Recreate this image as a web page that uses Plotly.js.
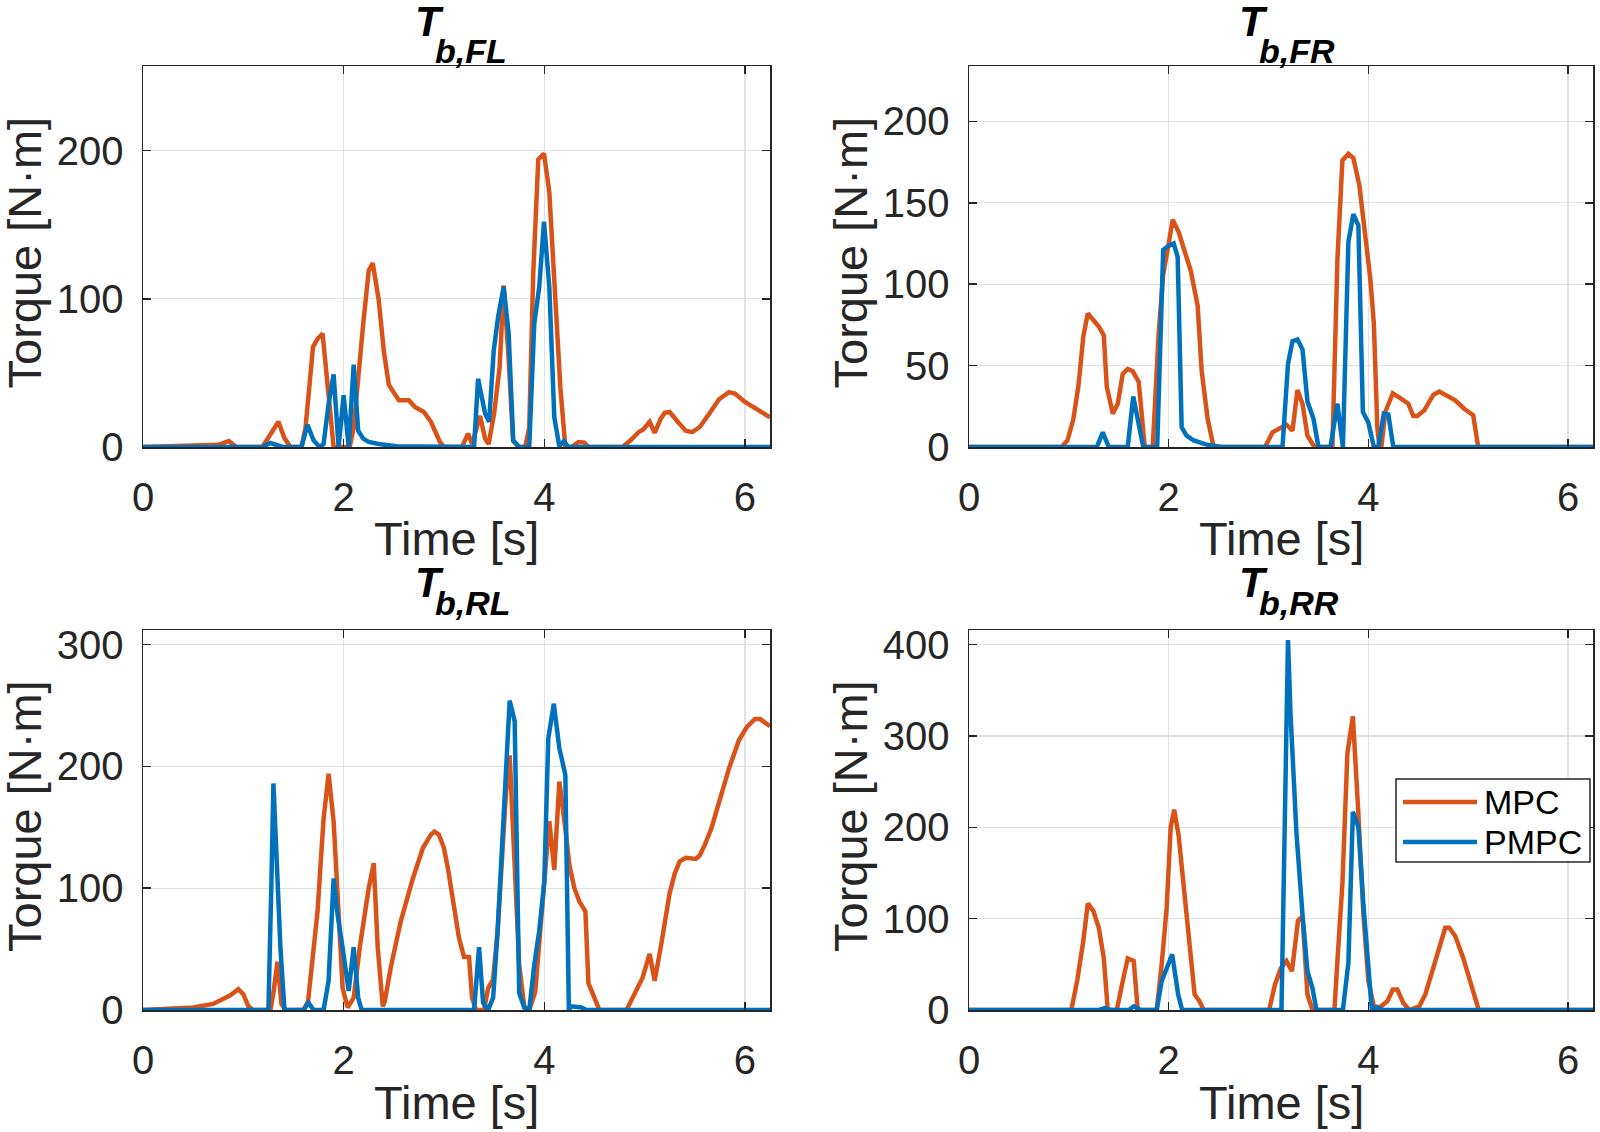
<!DOCTYPE html>
<html>
<head>
<meta charset="utf-8">
<script src="https://cdn.plot.ly/plotly-3.0.1.min.js"></script>
<style>
  html, body { margin: 0; padding: 0; background: #fff; }
  #tester { width: 1600px; height: 1132px; }
</style>
</head>
<body>
<div id="tester"></div>
<script>
// ----------------------- Data ------------------------------------------------
var tFL_mpc = [0, 0.5, 0.75, 0.855, 0.93, 1.19, 1.35, 1.41, 1.47, 1.58,
  1.62, 1.695, 1.74, 1.79, 1.90, 2.06, 2.10, 2.195, 2.25, 2.29,
  2.35, 2.40, 2.45, 2.55, 2.65, 2.71, 2.80, 2.87, 2.96, 3.0,
  3.18, 3.24, 3.28, 3.36, 3.41, 3.445, 3.50, 3.555, 3.595, 3.64,
  3.69, 3.75, 3.81, 3.85, 3.89, 3.94, 3.997, 4.05, 4.10, 4.16,
  4.21, 4.27, 4.34, 4.40, 4.44, 4.78, 4.86, 4.94, 4.99, 5.05,
  5.10, 5.16, 5.20, 5.25, 5.33, 5.41, 5.475, 5.55, 5.645, 5.74,
  5.84, 5.90, 6.0, 6.14, 6.25];
var FL_mpc = [0, 0.5, 1.5, 4, 0, 0, 17, 6, 0, 0,
  13, 67.6, 73, 76.6, 0, 0, 13, 83, 119, 124,
  99, 65, 42, 31.5, 31.5, 27, 23.6, 17, 3.4, 0,
  0, 9, 2, 21, 5.6, 2, 22.5, 54, 109, 65,
  4, 0, 0, 13, 117, 194, 198, 172, 117, 40.5,
  0, 0, 3.4, 3, 0, 0, 4.5, 10, 12, 17,
  9.5, 19, 23, 23.6, 17, 11, 10, 13.5, 22.5, 32,
  37, 36, 30.4, 24.3, 20];
var tFL_pmpc = [0, 1.19, 1.27, 1.33, 1.39, 1.58, 1.64, 1.70, 1.76, 1.80,
  1.85, 1.90, 1.95, 2.0, 2.05, 2.10, 2.145, 2.195, 2.25, 2.35,
  2.53, 3.30, 3.34, 3.41, 3.45, 3.496, 3.54, 3.595, 3.645, 3.69,
  3.75, 3.85, 3.90, 3.95, 3.997, 4.05, 4.10, 4.15, 4.195, 4.24,
  6.25];
var FL_pmpc = [0, 0, 2.7, 1.5, 0, 0, 15, 4.5, 0, 2,
  29, 49, 0, 35, 0, 55.6, 11, 5.6, 3.4, 2,
  0.5, 0, 46, 22.5, 17, 65, 88, 108, 76.6, 4.5,
  0, 0, 83, 108, 152, 108, 20, 0.5, 4, 0,
  0];

var tFR_mpc = [0, 0.927, 0.986, 1.045, 1.097, 1.145, 1.19, 1.24, 1.30, 1.35,
  1.38, 1.44, 1.49, 1.54, 1.59, 1.64, 1.70, 1.76, 1.84, 1.90,
  1.945, 1.995, 2.04, 2.10, 2.16, 2.22, 2.29, 2.33, 2.39, 2.45,
  2.965, 3.04, 3.10, 3.18, 3.24, 3.29, 3.34, 3.39, 3.46, 3.64,
  3.69, 3.74, 3.80, 3.85, 3.91, 3.96, 4.02, 4.055, 4.09, 4.11,
  4.13, 4.17, 4.245, 4.32, 4.40, 4.45, 4.49, 4.56, 4.65, 4.71,
  4.77, 4.87, 4.96, 5.05, 5.10, 6.25];
var FR_mpc = [0, 0, 4, 17, 38, 68, 82, 78, 74, 68.6,
  37, 20.5, 26.6, 45, 48, 46.5, 40, 0, 0, 70,
  106, 123, 139.6, 132, 121, 108.5, 87, 47, 17.4, 0,
  0, 9, 11, 13.7, 10, 35, 26.6, 7, 0, 0,
  115, 176, 180, 177.5, 160.7, 133, 103, 76, 12, 0,
  0, 21.5, 33, 30, 26.6, 19, 19, 22.5, 32, 34,
  32, 28.7, 23.5, 19.5, 0, 0];
var tFR_pmpc = [0, 1.28, 1.34, 1.40, 1.59, 1.645, 1.70, 1.745, 1.885, 1.945,
  1.995, 2.05, 2.09, 2.13, 2.18, 2.25, 2.37, 2.53, 3.14, 3.195,
  3.24, 3.29, 3.34, 3.39, 3.45, 3.50, 3.62, 3.69, 3.745, 3.80,
  3.85, 3.90, 3.945, 4.0, 4.055, 4.10, 4.155, 4.20, 4.25, 6.25];
var FR_pmpc = [0, 0, 9, 0, 0, 31, 14, 0, 0, 121,
  123.4, 125, 116.7, 12, 7, 4, 1.6, 0, 0, 51,
  65, 66, 60, 28, 17.4, 0, 0, 26.6, 0, 126,
  143, 136, 21.5, 15, 0, 0, 20.5, 20, 0, 0];

var tRL_mpc = [0, 0.3, 0.5, 0.7, 0.8, 0.87, 0.95, 1.0, 1.05, 1.1,
  1.27, 1.30, 1.34, 1.38, 1.42, 1.60, 1.645, 1.74, 1.80, 1.85,
  1.90, 1.94, 1.99, 2.04, 2.10, 2.16, 2.215, 2.25, 2.30, 2.34,
  2.39, 2.41, 2.47, 2.57, 2.69, 2.79, 2.87, 2.905, 2.95, 3.0,
  3.04, 3.10, 3.15, 3.20, 3.25, 3.28, 3.32, 3.40, 3.44, 3.49,
  3.535, 3.575, 3.615, 3.655, 3.70, 3.75, 3.80, 3.85, 3.91, 3.97,
  4.01, 4.05, 4.10, 4.15, 4.21, 4.25, 4.30, 4.35, 4.41, 4.44,
  4.50, 4.55, 4.82, 4.86, 4.92, 4.98, 5.05, 5.10, 5.16, 5.20,
  5.25, 5.30, 5.35, 5.41, 5.51, 5.55, 5.60, 5.665, 5.74, 5.84,
  5.94, 6.02, 6.10, 6.15, 6.25];
var RL_mpc = [0, 1, 2, 5, 9, 12, 17, 13, 3, 0,
  0, 14, 39.6, 5, 0, 0, 7, 81, 157, 194,
  155, 89, 18, 2, 10, 51, 81, 100, 120.6, 51,
  3, 7, 35, 73, 108, 133, 144, 146.5, 144, 133,
  116, 84, 59, 43.6, 43.6, 10, 0, 0, 18, 25,
  65, 119, 174, 209, 133, 37, 3, 0, 15, 78,
  111, 155, 115, 187.5, 149, 119, 100, 89, 81, 22,
  10, 0, 0, 7, 15.6, 26.5, 46, 24, 51, 73,
  96, 112, 122, 125, 124, 127, 135.6, 149, 171, 198,
  221.5, 232.5, 239, 239, 233];
var tRL_pmpc = [0, 1.25, 1.28, 1.30, 1.33, 1.37, 1.41, 1.60, 1.65, 1.70,
  1.80, 1.85, 1.90, 1.94, 1.99, 2.05, 2.10, 2.145, 2.18, 3.30,
  3.35, 3.39, 3.44, 3.49, 3.535, 3.575, 3.615, 3.655, 3.705, 3.75,
  3.80, 3.85, 3.90, 3.95, 4.0, 4.04, 4.095, 4.15, 4.21, 4.245,
  4.27, 4.37, 4.42, 6.25];
var RL_pmpc = [0, 0, 105, 186, 128, 51, 0, 0, 6, 0,
  0, 24, 108, 78, 51, 15.6, 51.6, 10, 0, 0,
  51.6, 6, 0, 10, 65, 133, 201, 254, 237, 14,
  2, 0, 37, 65, 105, 223, 251.5, 215, 193, 0,
  3, 2, 0, 0];

var tRR_mpc = [0, 1.025, 1.085, 1.145, 1.19, 1.245, 1.30, 1.35, 1.39, 1.48,
  1.54, 1.59, 1.65, 1.69, 1.88, 1.93, 1.98, 2.02, 2.055, 2.10,
  2.155, 2.21, 2.26, 2.31, 2.35, 3.006, 3.065, 3.125, 3.18, 3.235,
  3.295, 3.34, 3.39, 3.44, 3.66, 3.69, 3.74, 3.79, 3.845, 3.90,
  3.95, 4.0, 4.055, 4.115, 4.19, 4.245, 4.29, 4.35, 4.41, 4.51,
  4.57, 4.65, 4.73, 4.77, 4.81, 4.87, 4.95, 5.03, 5.085, 5.105,
  6.25];
var RR_mpc = [0, 0, 33, 75.6, 116.7, 108.6, 90, 57, 0, 0,
  31.6, 56.5, 53.6, 0, 0, 50, 112, 200, 219.4, 191,
  130.6, 68, 17, 9.5, 0, 0, 28, 46, 53.6, 42.5,
  97.6, 103, 17, 0, 0, 53.6, 138, 281, 321.5, 215,
  105, 31.6, 4, 3, 9.5, 22.4, 22.4, 7.7, 0, 4,
  17, 46, 75.6, 90, 90, 81, 57, 28, 6, 0,
  0];
var tRR_pmpc = [0, 1.30, 1.36, 1.42, 1.60, 1.65, 1.72, 1.88, 1.93, 1.98,
  2.035, 2.095, 2.135, 3.13, 3.195, 3.22, 3.28, 3.34, 3.39, 3.44,
  3.48, 3.745, 3.80, 3.845, 3.90, 3.95, 4.0, 4.035, 4.08, 4.15,
  6.25];
var RR_pmpc = [0, 0, 2, 0, 0, 4, 0, 0, 31.6, 46,
  61, 17, 0, 0, 405, 325, 193, 105, 42.5, 24,
  0, 0, 51.7, 217, 200, 116, 42.5, 0, 3, 0,
  0];

var panelNames = ["FL", "FR", "RL", "RR"];
var yMax = [257, 234, 312, 416];
var yStep = [100, 50, 100, 100];
var xTicks = [0, 2, 4, 6];
var seriesNames = ["MPC", "PMPC"];
// =============================================================================


// ----------------------- Styling helpers -------------------------------------
var W = 1600, H = 1132;
var MPC_COLOR = "#D95319";
var PMPC_COLOR = "#0072BD";
var INK = "#262626";
var FONT = "Liberation Sans, Arial, Helvetica, sans-serif";

function px2x (px) { return px / W; }
function px2y (py) { return 1 - py / H; }

// axes boxes in pixels: [left, right] and [top, bottom]
var colsPx = [[143, 770], [969, 1593]];
var rowsPx = [[66, 447], [630, 1010]];
// title offsets above the axes top, per row
var mainShift = [44, 48];
var subShift = [15, 27];

function xAxisStyle (col) {
  return {
    domain: [px2x(colsPx[col][0]), px2x(colsPx[col][1])],
    range: [0, 6.25],
    tickvals: xTicks,
    ticks: "inside", ticklen: 8, tickwidth: 1.5, tickcolor: INK,
    showline: true, linecolor: INK, linewidth: 1.5, mirror: "ticks",
    showgrid: true, gridcolor: "#e2e2e2", gridwidth: 1.3,
    zeroline: false,
    ticklabelstandoff: 14,
    tickfont: {family: FONT, size: 40, color: INK},
    fixedrange: true
  };
}

function yAxisStyle (row, i) {
  return {
    domain: [px2y(rowsPx[row][1]), px2y(rowsPx[row][0])],
    range: [0, yMax[i]],
    dtick: yStep[i], tick0: 0,
    ticks: "inside", ticklen: 8, tickwidth: 1.5, tickcolor: INK,
    showline: true, linecolor: INK, linewidth: 1.5, mirror: "ticks",
    showgrid: true, gridcolor: "#e2e2e2", gridwidth: 1.3,
    zeroline: false,
    ticklabelstandoff: 10,
    tickfont: {family: FONT, size: 40, color: INK},
    fixedrange: true
  };
}
// =============================================================================


// ----------------------- Traces ----------------------------------------------
var panels = [
  [tFL_mpc, FL_mpc, tFL_pmpc, FL_pmpc],
  [tFR_mpc, FR_mpc, tFR_pmpc, FR_pmpc],
  [tRL_mpc, RL_mpc, tRL_pmpc, RL_pmpc],
  [tRR_mpc, RR_mpc, tRR_pmpc, RR_pmpc]
];

var data = [];
var layout = {
  width: W, height: H,
  margin: {l: 0, r: 0, t: 0, b: 0},
  paper_bgcolor: "#ffffff",
  plot_bgcolor: "#ffffff",
  showlegend: false,
  font: {family: FONT, color: INK},
  annotations: [],
  shapes: []
};

for (var i = 0; i < panels.length; i++) {
  var sfx = i == 0 ? "" : String(i + 1);
  var row = Math.floor(i / 2), col = i % 2;
  var p = panels[i];
  data.push({
    x: p[0], y: p[1], xaxis: "x" + sfx, yaxis: "y" + sfx,
    mode: "lines", name: seriesNames[0],
    line: {color: MPC_COLOR, width: 4.5},
    hoverinfo: "x+y+name"
  });
  data.push({
    x: p[2], y: p[3], xaxis: "x" + sfx, yaxis: "y" + sfx,
    mode: "lines", name: seriesNames[1],
    line: {color: PMPC_COLOR, width: 4.5},
    hoverinfo: "x+y+name"
  });

  var xa = xAxisStyle(col); xa.anchor = "y" + sfx;
  var ya = yAxisStyle(row, i); ya.anchor = "x" + sfx;
  layout["xaxis" + sfx] = xa;
  layout["yaxis" + sfx] = ya;

  var xd = "x" + sfx + " domain", yd = "y" + sfx + " domain";

  // title T_{b,XX}
  layout.annotations.push({
    xref: xd, yref: yd, x: 0.5, y: 1, xanchor: "left", yanchor: "middle",
    xshift: -44, yshift: mainShift[row], showarrow: false,
    text: "<b><i>T</i></b>", font: {family: FONT, size: 42, color: "#000"}
  });
  layout.annotations.push({
    xref: xd, yref: yd, x: 0.5, y: 1, xanchor: "left", yanchor: "middle",
    xshift: -24, yshift: subShift[row], showarrow: false,
    text: "<b><i>b," + panelNames[i] + "</i></b>", font: {family: FONT, size: 34, color: "#000"}
  });
  // axis labels
  layout.annotations.push({
    xref: xd, yref: yd, x: 0.5, y: 0, xanchor: "center", yanchor: "middle",
    yshift: -92, showarrow: false,
    text: "Time [s]", font: {family: FONT, size: 47, color: INK}
  });
  layout.annotations.push({
    xref: xd, yref: yd, x: 0, y: 0.5, xanchor: "center", yanchor: "middle",
    xshift: -119, yshift: 4, textangle: -90, showarrow: false,
    text: "Torque [N\u00b7m]", font: {family: FONT, size: 47, color: INK}
  });
}
// =============================================================================


// ----------------------- Legend box in the RR panel --------------------------
var legBox = {l: 1396, r: 1590, t: 779, b: 862};
layout.shapes.push({
  type: "rect", xref: "paper", yref: "paper", layer: "above",
  x0: px2x(legBox.l), x1: px2x(legBox.r), y0: px2y(legBox.b), y1: px2y(legBox.t),
  line: {color: INK, width: 1.5}, fillcolor: "#ffffff"
});
var legRows = [802, 842];
var legColors = [MPC_COLOR, PMPC_COLOR];
for (var k = 0; k < 2; k++) {
  layout.shapes.push({
    type: "line", xref: "paper", yref: "paper", layer: "above",
    x0: px2x(1403), x1: px2x(1477), y0: px2y(legRows[k]), y1: px2y(legRows[k]),
    line: {color: legColors[k], width: 4.5}
  });
  layout.annotations.push({
    xref: "paper", yref: "paper", x: px2x(1482), y: px2y(legRows[k]),
    xanchor: "left", yanchor: "middle", showarrow: false,
    text: seriesNames[k], font: {family: FONT, size: 34, color: "#000"}
  });
}
// =============================================================================

Plotly.newPlot("tester", data, layout, {displayModeBar: false, staticPlot: true});
</script>
</body>
</html>
